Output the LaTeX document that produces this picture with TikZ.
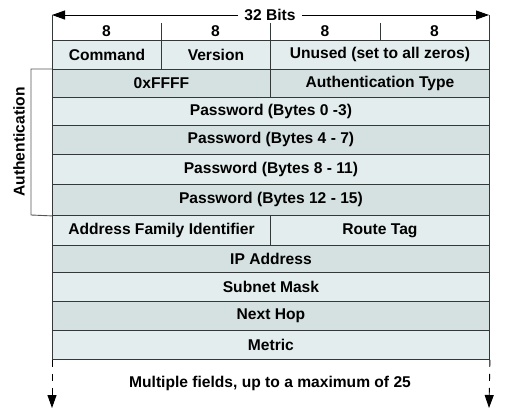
\documentclass[tikz,border=0pt]{standalone}
\usepackage{fontspec}
\setmainfont{Liberation Sans}
\usetikzlibrary{arrows.meta}
\definecolor{lightf}{HTML}{E3EDED}
\definecolor{darkf}{HTML}{D4E1E0}
\definecolor{linec}{HTML}{333838}
\definecolor{brack}{HTML}{555555}
\begin{document}
\begin{tikzpicture}[x=1pt,y=-1pt,
  txt/.style={font=\fontsize{15.6}{18}\selectfont\bfseries, inner sep=0pt},
  field/.style={txt, draw=linec, line width=0.9pt, anchor=north west, minimum height=#1},
  lt/.style={fill=lightf},
  dk/.style={fill=darkf},
  sep/.style={draw=linec, line width=0.9pt},
  tip/.style={-{Triangle[length=13pt,width=9pt]}, line width=0.9pt}
]
\useasboundingbox (0,0) rectangle (519,413);
% header
\node[txt] (b32) at (270,15) {32 Bits};
\coordinate (tl) at (52,15);
\coordinate (tr) at (489,15);
\draw[tip] (b32.west) ++(-6,0) -- (tl);
\draw[tip] (b32.east) ++(6,0) -- (tr);
\draw[sep] (tl) -- (52,40);
\draw[sep] (tr) -- (489,40);
\draw[sep] (161,23) -- (161,40);
\draw[sep] (270,23) -- (270,40);
\draw[sep] (380,23) -- (380,40);
\node[txt] (h1) at (106.5,31) {8};
\node[txt] (h2) at (215.5,31) {8};
\node[txt] (h3) at (325,31) {8};
\node[txt] (h4) at (434.5,31) {8};
% rows
\node[field=29pt, lt, minimum width=109pt] (cmd) at (52,40) {Command};
\node[field=29pt, lt, minimum width=109pt] (ver) at (161,40) {Version};
\node[field=29pt, lt, minimum width=219pt] (unu) at (270,40) {Unused (set to all zeros)};
\node[field=28pt, dk, minimum width=218pt] (ffff) at (52,69) {0xFFFF};
\node[field=28pt, dk, minimum width=219pt] (aty) at (270,69) {Authentication Type};
\node[field=28pt, lt, minimum width=437pt] (p0) at (52,97) {Password (Bytes 0 -3)};
\node[field=29pt, dk, minimum width=437pt] (p4) at (52,125) {Password (Bytes 4 - 7)};
\node[field=30pt, lt, minimum width=437pt] (p8) at (52,154) {Password (Bytes 8 - 11)};
\node[field=31pt, dk, minimum width=437pt] (p12) at (52,184) {Password (Bytes 12 - 15)};
\node[field=30pt, lt, minimum width=218pt] (afi) at (52,215) {Address Family Identifier};
\node[field=30pt, lt, minimum width=219pt] (rt) at (270,215) {Route Tag};
\node[field=27pt, dk, minimum width=437pt] (ip) at (52,245) {IP Address};
\node[field=29pt, lt, minimum width=437pt] (sm) at (52,272) {Subnet Mask};
\node[field=29pt, dk, minimum width=437pt] (nh) at (52,301) {Next Hop};
\node[field=29pt, lt, minimum width=437pt] (met) at (52,330) {Metric};
% authentication bracket
\draw[draw=brack, line width=0.9pt] (ffff.north west) -- (31,69) -- (31,215) -- (p12.south west);
\node[txt, rotate=90] (auth) at (19,142) {Authentication};
% bottom
\coordinate (bl) at (52,408);
\coordinate (br) at (489,408);
\draw[tip, dash pattern=on 7pt off 7pt] (met.south west) -- (bl);
\draw[tip, dash pattern=on 7pt off 7pt] (met.south east) -- (br);
\node[txt] (mf) at (270,383) {Multiple fields, up to a maximum of 25};
\end{tikzpicture}
\end{document}
